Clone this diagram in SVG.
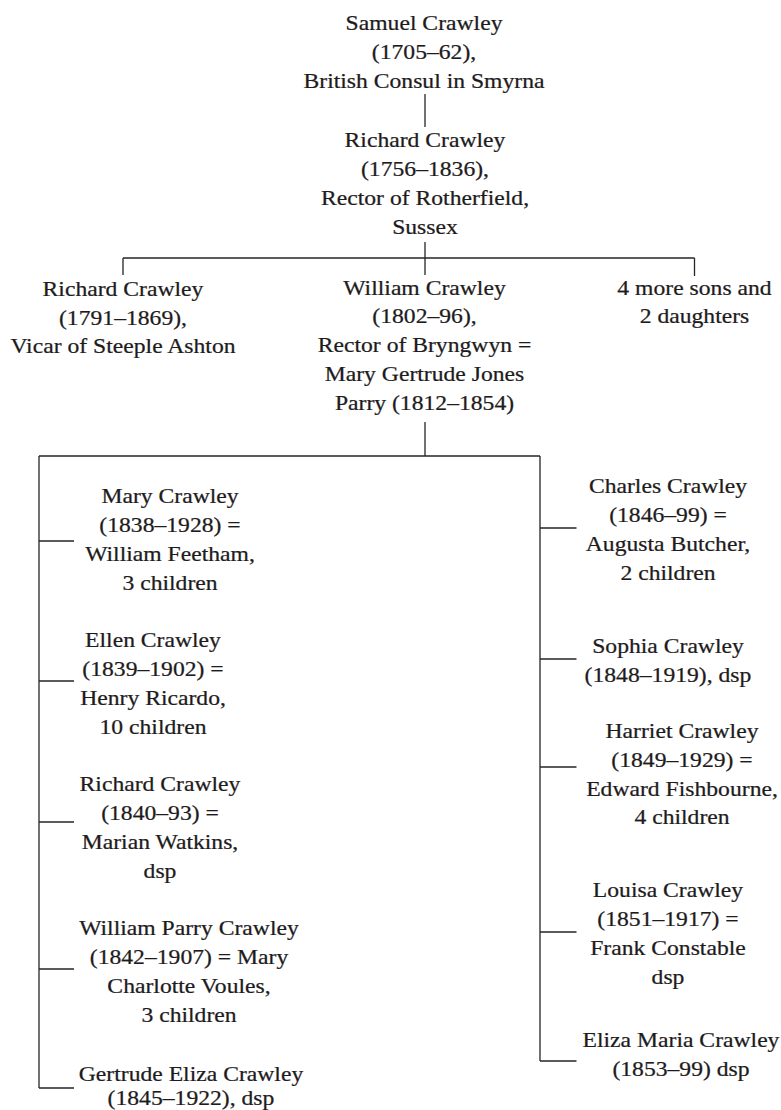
<svg xmlns="http://www.w3.org/2000/svg" width="781" height="1110" viewBox="0 0 781 1110">
<style>
text{font-family:"Liberation Serif","Times New Roman",serif;font-size:22px;fill:#1e1b1c;stroke:#1e1b1c;stroke-width:0.25;text-anchor:middle}
.c{fill:none;stroke:#262626;stroke-width:1.3}
</style>
<rect width="781" height="1110" fill="#fff"/>
<g id="connectors" class="c">
<path class="c" d="M425 94V127"/>
<path class="c" d="M425 242V275"/>
<path class="c" d="M123 258H694.5M123 258V275M694.5 258V276"/>
<path class="c" d="M425 422V456"/>
<path class="c" d="M39 456H540M39 456V1088M540 456V1061"/>
<path class="c" d="M39 541H74M39 681H74M39 822H74M39 969H74M39 1088H74"/>
<path class="c" d="M540 528H576.5M540 659H576.5M540 767H576.5M540 932H576.5M540 1061H576.5"/>
</g>
<g id="samuel" transform="translate(424 0) scale(1.075 1)"><text><tspan x="0" y="30">Samuel Crawley</tspan><tspan x="0" y="59">(1705–62),</tspan><tspan x="0" y="88">British Consul in Smyrna</tspan></text></g>
<g id="richard1756" transform="translate(425 0) scale(1.075 1)"><text><tspan x="0" y="147.5">Richard Crawley</tspan><tspan x="0" y="176.3">(1756–1836),</tspan><tspan x="0" y="205">Rector of Rotherfield,</tspan><tspan x="0" y="233.8">Sussex</tspan></text></g>
<g id="richard1791" transform="translate(123 0) scale(1.075 1)"><text><tspan x="0" y="296">Richard Crawley</tspan><tspan x="0" y="324.7">(1791–1869),</tspan><tspan x="0" y="353.3">Vicar of Steeple Ashton</tspan></text></g>
<g id="william" transform="translate(424.5 0) scale(1.075 1)"><text><tspan x="0" y="295">William Crawley</tspan><tspan x="0" y="323.5">(1802–96),</tspan><tspan x="0" y="352">Rector of Bryngwyn =</tspan><tspan x="0" y="381">Mary Gertrude Jones</tspan><tspan x="0" y="410">Parry (1812–1854)</tspan></text></g>
<g id="more" transform="translate(694.5 0) scale(1.075 1)"><text><tspan x="0" y="295">4 more sons and</tspan><tspan x="0" y="323">2 daughters</tspan></text></g>
<g id="mary" transform="translate(170 0) scale(1.075 1)"><text><tspan x="0" y="503.3">Mary Crawley</tspan><tspan x="0" y="532.3">(1838–1928) =</tspan><tspan x="0" y="561.3">William Feetham,</tspan><tspan x="0" y="590.3">3 children</tspan></text></g>
<g id="ellen" transform="translate(153 0) scale(1.075 1)"><text><tspan x="0" y="647.3">Ellen Crawley</tspan><tspan x="0" y="676.3">(1839–1902) =</tspan><tspan x="0" y="705.3">Henry Ricardo,</tspan><tspan x="0" y="734.3">10 children</tspan></text></g>
<g id="richard1840" transform="translate(160 0) scale(1.075 1)"><text><tspan x="0" y="790.7">Richard Crawley</tspan><tspan x="0" y="819.7">(1840–93) =</tspan><tspan x="0" y="848.7">Marian Watkins,</tspan><tspan x="0" y="877.7">dsp</tspan></text></g>
<g id="williamparry" transform="translate(189 0) scale(1.075 1)"><text><tspan x="0" y="935">William Parry Crawley</tspan><tspan x="0" y="964">(1842–1907) = Mary</tspan><tspan x="0" y="993">Charlotte Voules,</tspan><tspan x="0" y="1022">3 children</tspan></text></g>
<g id="gertrude" transform="translate(191 0) scale(1.075 1)"><text><tspan x="0" y="1081">Gertrude Eliza Crawley</tspan><tspan x="0" y="1105">(1845–1922), dsp</tspan></text></g>
<g id="charles" transform="translate(668 0) scale(1.075 1)"><text><tspan x="0" y="493.3">Charles Crawley</tspan><tspan x="0" y="522.3">(1846–99) =</tspan><tspan x="0" y="551.3">Augusta Butcher,</tspan><tspan x="0" y="580.3">2 children</tspan></text></g>
<g id="sophia" transform="translate(668 0) scale(1.075 1)"><text><tspan x="0" y="653.3">Sophia Crawley</tspan><tspan x="0" y="682.3">(1848–1919), dsp</tspan></text></g>
<g id="harriet" transform="translate(682 0) scale(1.075 1)"><text><tspan x="0" y="738.3">Harriet Crawley</tspan><tspan x="0" y="767.3">(1849–1929) =</tspan><tspan x="0" y="796">Edward Fishbourne,</tspan><tspan x="0" y="824.5">4 children</tspan></text></g>
<g id="louisa" transform="translate(668 0) scale(1.075 1)"><text><tspan x="0" y="897">Louisa Crawley</tspan><tspan x="0" y="926">(1851–1917) =</tspan><tspan x="0" y="955">Frank Constable</tspan><tspan x="0" y="984">dsp</tspan></text></g>
<g id="eliza" transform="translate(681 0) scale(1.075 1)"><text><tspan x="0" y="1047.3">Eliza Maria Crawley</tspan><tspan x="0" y="1076.3">(1853–99) dsp</tspan></text></g>
</svg>
